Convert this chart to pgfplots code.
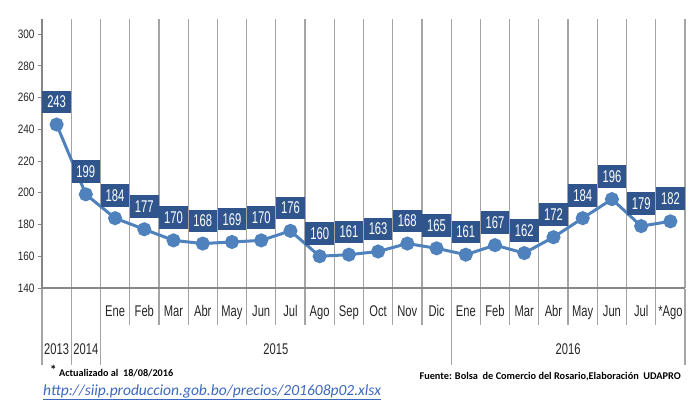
\documentclass[border=0pt]{standalone}
\usepackage{fontspec}
\setmainfont{Liberation Sans}[FakeStretch=0.72]
\newfontfamily\yfont{Liberation Sans}[FakeStretch=0.82]
\newfontfamily\lfont{Liberation Sans}[FakeStretch=0.66]
\newfontfamily\cfont{Carlito}
\usepackage{pgfplots}
\pgfplotsset{compat=1.18}
\usepackage{pgfplotstable}
\definecolor{lineblue}{RGB}{79,129,189}
\definecolor{boxblue}{RGB}{47,85,140}
\definecolor{gridgray}{RGB}{165,165,165}
\definecolor{axgray}{RGB}{134,134,134}
\definecolor{urlblue}{RGB}{59,104,190}

\pgfplotstableread{
x val
0 243
1 199
2 184
3 177
4 170
5 168
6 169
7 170
8 176
9 160
10 161
11 163
12 168
13 165
14 161
15 167
16 162
17 172
18 184
19 196
20 179
21 182
}\pricedata

\begin{document}
\begin{tikzpicture}
\useasboundingbox (0,0) rectangle (698bp,-407bp);
\begin{axis}[
 at={(42bp,-288bp)}, anchor=south west,
 scale only axis, width=643bp, height=269bp,
 xmin=-0.5, xmax=21.5, ymin=140, ymax=309.5,
 axis lines*=left,
 axis line style={axgray, line width=1.5bp},
 x axis line style={line width=2bp},
 ytick={140,160,...,300},
 yticklabel style={font=\yfont\fontsize{12.2bp}{13bp}\selectfont, text=black!85},
 tick align=outside, major tick length=4bp,
 ytick style={axgray, line width=1bp},
 xtick={2,...,21},
 xticklabels={Ene,Feb,Mar,Abr,May,Jun,Jul,Ago,Sep,Oct,Nov,Dic,Ene,Feb,Mar,Abr,May,Jun,Jul,*Ago},
 xtick style={draw=none},
 xticklabel style={font=\fontsize{15.5bp}{16bp}\selectfont, text=black!85, anchor=base, yshift=-24bp},
 minor xtick={-0.5,0.5,...,21.5},
 minor tick length=0pt,
 xminorgrids, minor grid style={gridgray, line width=1.2bp},
 /pgf/number format/assume math mode=true,
 clip=false,
]
\addplot[color=lineblue, line width=3bp, mark=*, mark size=5.5bp,
  mark options={fill=lineblue, draw=lineblue},
  nodes near coords,
  every node near coord/.append style={fill=boxblue, text=white,
   font=\lfont\fontsize{17bp}{17bp}\selectfont, anchor=south, yshift=10bp,
   inner sep=0pt, minimum width=28.5bp, minimum height=22.5bp}]
 table[x=x, y=val] {\pricedata};
\end{axis}
% category separators below the axis
\foreach \k in {3,...,13,15,16,...,21}
  \draw[gridgray, line width=1.2bp] ({(42+\k*29.227)*1bp},-289bp) -- ({(42+\k*29.227)*1bp},-325bp);
\foreach \k in {0,1,2,14,22}
  \draw[gridgray, line width=1.2bp] ({(42+\k*29.227)*1bp},-289bp) -- ({(42+\k*29.227)*1bp},-365bp);
% year labels
\begin{scope}[every node/.style={anchor=base, inner sep=0pt, text=black!85, font=\fontsize{15.5bp}{16bp}\selectfont}]
\node at (56.6bp,-354bp) {2013};
\node at (85.8bp,-354bp) {2014};
\node at (275.8bp,-354bp) {2015};
\node at (568.1bp,-354bp) {2016};
\end{scope}
% footnotes
\node[anchor=base west, inner sep=0pt, font=\cfont\bfseries\fontsize{13bp}{13bp}\selectfont] at (50bp,-374bp) {*};
\node[anchor=base west, inner sep=0pt, font=\cfont\bfseries\fontsize{10.2bp}{11bp}\selectfont] at (59bp,-376bp) {Actualizado al\ \ 18/08/2016};
\node[anchor=base east, inner sep=0pt, font=\cfont\bfseries\fontsize{10.3bp}{11bp}\selectfont] at (681bp,-379bp) {Fuente: Bolsa\ \ de Comercio del Rosario,Elaboración\ \ UDAPRO};
\node[anchor=base west, inner sep=0pt, text=urlblue, font=\cfont\itshape\fontsize{15.5bp}{16bp}\selectfont] at (43bp,-395bp) {\underline{http://siip.produccion.gob.bo/precios/201608p02.xlsx}};
\end{tikzpicture}
\end{document}
